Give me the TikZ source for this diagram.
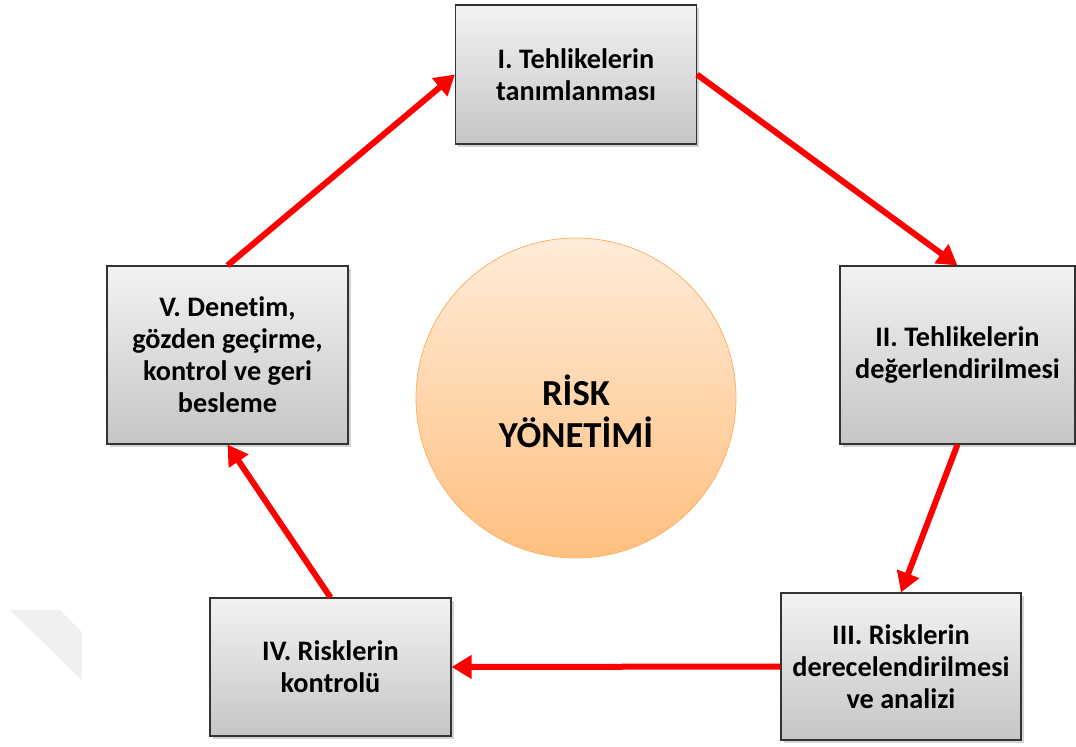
\documentclass[tikz,border=0pt]{standalone}
\usepackage{fontspec}
\setmainfont{Carlito}[Ligatures=NoCommon]
\usetikzlibrary{arrows.meta,shadows}

\begin{document}
\begin{tikzpicture}[x=0.75pt, y=-0.75pt,
    stage/.style={rectangle, draw=black!80, line width=0.8pt, top color=gray!10, bottom color=gray!45,
      drop shadow={shadow xshift=2pt, shadow yshift=-2pt, opacity=0.35},
      align=center, font=\fontsize{21.2pt}{24pt}\selectfont\bfseries, minimum width=180.75pt},
    flow/.style={draw=red, line width=4.5pt, -{Triangle[length=15pt, width=17pt]}}]
    \useasboundingbox (0, 0) rectangle (1076, 747);

    % faint mark at the lower left
    \fill[gray!12] (10, 610) -- (60, 610) -- (82, 632) -- (82, 680) -- cycle;

    \draw
    (576, 398) node[circle, draw=orange!60, line width=0.6pt, top color=orange!15, bottom color=orange!50,
      minimum size=240pt,
      label={[yshift=-10pt, align=center, font=\fontsize{27.5pt}{31.5pt}\selectfont\bfseries]center:R\.ISK\\Y\"ONET\.IM\.I}](R){}
    (576, 74.5) node[stage, minimum height=104.25pt](I){I. Tehlikelerin\\tan\i mlanmas\i}
    (957.5, 355) node[stage, minimum width=176.25pt, minimum height=133.5pt](II){II. Tehlikelerin\\de\u{g}erlendirilmesi}
    (901, 666.5) node[stage, minimum width=180pt, minimum height=110.25pt](III){III. Risklerin\\derecelendirilmesi\\ve analizi}
    (330.5, 667) node[stage, minimum height=103.5pt](IV){IV. Risklerin\\kontrol\"u}
    (227.5, 355) node[stage, minimum height=133.5pt](V){V. Denetim,\\g\"ozden ge\c{c}irme,\\kontrol ve geri\\besleme};

    \draw[flow] (I.east) -- (II.north);
    \draw[flow] (II.south) -- (III.north);
    \draw[flow] (III.west) -- (IV.east);
    \draw[flow] (IV.north) -- (V.south);
    \draw[flow] (V.north) -- (I.west);

  \end{tikzpicture}
\end{document}
